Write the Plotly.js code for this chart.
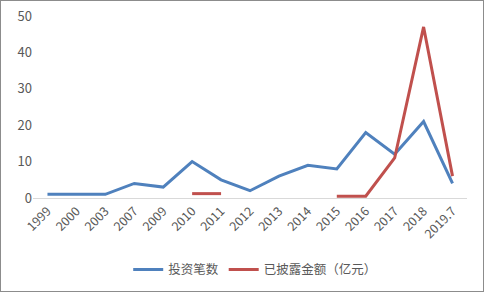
<!DOCTYPE html>
<html><head><meta charset="utf-8">
<script src="https://cdn.plot.ly/plotly-3.0.1.min.js"></script>
<style>body{margin:0;padding:0;background:#fff}#wrap{position:relative;width:484px;height:292px}#frame{position:absolute;left:0;top:0;width:484px;height:292px;box-sizing:border-box;border:1px solid #8c8c8c;pointer-events:none}</style>
</head><body>
<div id="wrap"><div id="chart" style="width:484px;height:292px"></div><div id="frame"></div></div>
<script>
const categories = ["1999","2000","2003","2007","2009","2010","2011","2012","2013","2014","2015","2016","2017","2018","2019.7"];
const investCount = [1,1,1,4,3,10,5,2,6,9,8,18,12,21,4];
const disclosedAmount = [null,null,null,null,null,1.2,1.2,null,null,null,0.5,0.5,11,47,6];
const seriesNames = ["投资笔数","已披露金额（亿元）"];
const font = "Noto Sans CJK SC, sans-serif";
Plotly.newPlot("chart", [
  {x: categories, y: investCount, type: "scatter", mode: "lines", name: seriesNames[0], line: {color: "#4F81BD", width: 3}},
  {x: categories, y: disclosedAmount, type: "scatter", mode: "lines", name: seriesNames[1], connectgaps: false, line: {color: "#C0504D", width: 3}}
], {
  width: 484, height: 292,
  margin: {l: 33, r: 17, t: 16, b: 94, autoexpand: false},
  paper_bgcolor: "#fff", plot_bgcolor: "#fff",
  font: {family: font, color: "#595959", size: 12},
  xaxis: {type: "category", automargin: false, range: [-0.5, 14.5], tickangle: -45, showgrid: false, showline: true, linecolor: "#d9d9d9", linewidth: 1, ticks: "", zeroline: false, tickfont: {size: 12.5, color: "#595959"}},
  yaxis: {automargin: false, range: [0, 50], dtick: 10, showgrid: false, zeroline: false, showline: false, ticks: "", tickfont: {size: 13, color: "#595959"}},
  showlegend: true,
  legend: {orientation: "h", x: 0.512, xanchor: "center", y: -0.395, yanchor: "middle", itemwidth: 30, font: {size: 12.5, color: "#595959"}}
}, {displayModeBar: false, staticPlot: true});
</script>
</body></html>
